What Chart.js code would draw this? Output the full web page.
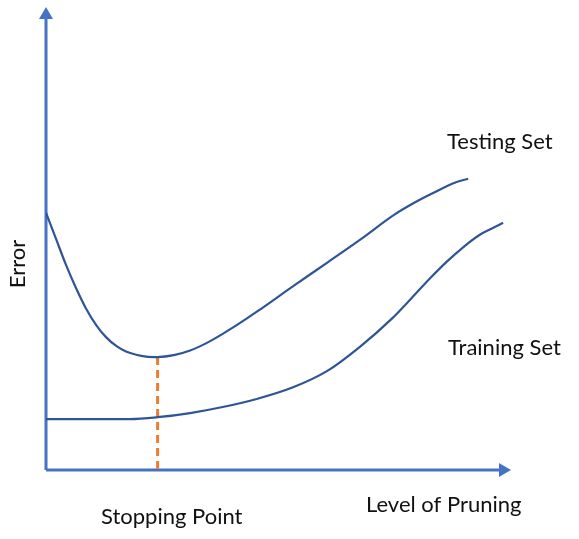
<!DOCTYPE html>
<html>
<head>
<meta charset="utf-8">
<title>Error vs Level of Pruning</title>
<script src="https://cdn.jsdelivr.net/npm/chart.js@4/dist/chart.umd.min.js"></script>
<style>
	html, body { margin: 0; padding: 0; background: #ffffff; }
	#wrap { width: 579px; height: 539px; }
</style>
</head>
<body>
<div id="wrap"><canvas id="chart" width="579" height="539"></canvas></div>
<script>
"use strict";

// Data (level of pruning 0..100, error 0..100)

var testingX = [0, 2.2, 4.3, 6.5, 8.6, 10.8, 12.9, 15.1, 17.2, 19.4, 21.5, 24,
	27.5, 31, 34.5, 38, 41.5, 45.5, 53, 60.5, 67.5, 75, 79, 82.6, 86.2, 88.3, 90.8];
var testingY = [55.6, 49.8, 44.3, 39.2, 34.9, 31.3, 28.7, 26.8, 25.6, 24.9, 24.5, 24.4,
	24.8, 25.8, 27.4, 29.4, 31.6, 34.3, 39.6, 44.8, 49.7, 55.2, 57.6, 59.5, 61.3, 62.2, 62.9];

var trainingX = [0, 18, 24, 31, 38, 45.5, 53, 60.5, 67.5, 74.5, 78.6, 82.6, 86.2,
	89.7, 93.3, 96.2, 98.3];
var trainingY = [11, 11, 11.4, 12.3, 13.6, 15.4, 17.8, 21.4, 26.6, 32.8, 37.1, 41.4, 45,
	48.1, 50.8, 52.3, 53.4];

var stoppingX = [24, 24];
var stoppingY = [24.4, 0];

var LABELS = {
	TESTING: "Testing Set",
	TRAINING: "Training Set",
	X_AXIS: "Level of Pruning",
	Y_AXIS: "Error",
	STOPPING: "Stopping Point"
};

var AXIS_COLOR = "#4472C4",
	CURVE_COLOR = "#2F5597",
	STOP_COLOR = "#ED7D31",
	TEXT_COLOR = "#111111",
	FONT = "22px Lato";

function toPoints(xs, ys) {
	var points = [];

	for (var i = 0; i < xs.length; i++) {
		points.push({ x: xs[i], y: ys[i] });
	}
	return points;
}

// axes with arrow heads, drawn on the chart area edges
var arrowAxes = {
	id: "arrowAxes",
	beforeDatasetsDraw: function (chart) {
		var ctx = chart.ctx,
			area = chart.chartArea;

		ctx.save();
		ctx.strokeStyle = AXIS_COLOR;
		ctx.fillStyle = AXIS_COLOR;
		ctx.lineWidth = 3;
		ctx.beginPath();
		ctx.moveTo(area.left, area.bottom);
		ctx.lineTo(area.left, area.top + 10);
		ctx.moveTo(area.left, area.bottom);
		ctx.lineTo(area.right - 10, area.bottom);
		ctx.stroke();
		// y arrow
		ctx.beginPath();
		ctx.moveTo(area.left, area.top);
		ctx.lineTo(area.left - 7, area.top + 12);
		ctx.lineTo(area.left + 7, area.top + 12);
		ctx.closePath();
		ctx.fill();
		// x arrow
		ctx.beginPath();
		ctx.moveTo(area.right, area.bottom);
		ctx.lineTo(area.right - 12, area.bottom - 7);
		ctx.lineTo(area.right - 12, area.bottom + 7);
		ctx.closePath();
		ctx.fill();
		ctx.restore();
	}
};

var textLabels = {
	id: "textLabels",
	afterDraw: function (chart) {
		var ctx = chart.ctx;

		ctx.save();
		ctx.fillStyle = TEXT_COLOR;
		ctx.font = FONT;
		ctx.textBaseline = "alphabetic";
		ctx.textAlign = "left";
		ctx.fillText(LABELS.TESTING, 447, 149);
		ctx.fillText(LABELS.TRAINING, 448, 355);
		ctx.fillText(LABELS.X_AXIS, 366, 512);
		ctx.fillText(LABELS.STOPPING, 101, 524);
		ctx.translate(25, 264);
		ctx.rotate(-Math.PI / 2);
		ctx.textAlign = "center";
		ctx.fillText(LABELS.Y_AXIS, 0, 0);
		ctx.restore();
	}
};

var curveStyle = {
	showLine: true,
	borderColor: CURVE_COLOR,
	borderWidth: 2.2,
	pointRadius: 0,
	fill: false,
	cubicInterpolationMode: "monotone"
};

new Chart(document.getElementById("chart"), {
	type: "scatter",
	data: {
		datasets: [
			Object.assign({ label: LABELS.TESTING, data: toPoints(testingX, testingY) }, curveStyle),
			Object.assign({ label: LABELS.TRAINING, data: toPoints(trainingX, trainingY) }, curveStyle),
			{
				label: LABELS.STOPPING,
				data: toPoints(stoppingX, stoppingY),
				showLine: true,
				borderColor: STOP_COLOR,
				borderWidth: 3,
				borderDash: [8, 5],
				pointRadius: 0
			}
		]
	},
	options: {
		responsive: false,
		animation: false,
		layout: { padding: { left: 46, right: 68, top: 7, bottom: 69 } },
		scales: {
			x: { type: "linear", min: 0, max: 100, display: false },
			y: { type: "linear", min: 0, max: 100, display: false }
		},
		plugins: {
			legend: { display: false },
			tooltip: { enabled: false }
		}
	},
	plugins: [arrowAxes, textLabels]
});
</script>
</body>
</html>
